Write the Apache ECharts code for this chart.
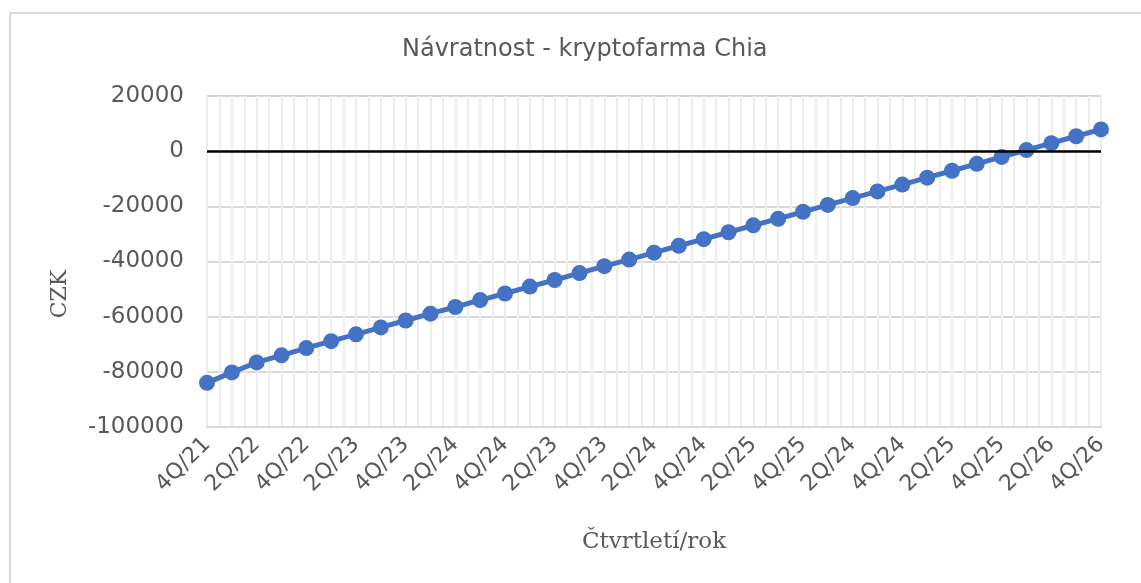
<!DOCTYPE html>
<html>
<head>
<meta charset="utf-8">
<script src="https://cdn.jsdelivr.net/npm/echarts@6/dist/echarts.min.js"></script>
<style>
  html, body { margin: 0; padding: 0; background: #fff; }
  #chart { width: 1141px; height: 583px; }
</style>
</head>
<body>
<div id="chart"></div>
<script>
// čtvrtletí (popisky na ose x, zobrazuje se každý druhý)
var quarters = [
  '4Q/21', '1Q/22', '2Q/22', '3Q/22', '4Q/22', '1Q/23', '2Q/23', '3Q/23', '4Q/23',
  '1Q/24', '2Q/24', '3Q/24', '4Q/24', '1Q/23', '2Q/23', '3Q/23', '4Q/23',
  '1Q/24', '2Q/24', '3Q/24', '4Q/24', '1Q/25', '2Q/25', '3Q/25', '4Q/25',
  '1Q/24', '2Q/24', '3Q/24', '4Q/24', '1Q/25', '2Q/25', '3Q/25', '4Q/25',
  '1Q/26', '2Q/26', '3Q/26', '4Q/26'
];
// kumulovaná návratnost v CZK
var returns = [
  -84000, -80200, -76600, -74000, -71400, -68900, -66400, -63900, -61400,
  -58900, -56500, -54000, -51600, -49100, -46700, -44200, -41700,
  -39300, -36800, -34300, -31900, -29400, -26900, -24500, -22000,
  -19500, -17000, -14600, -12100, -9600, -7100, -4600, -2100,
  400, 2900, 5400, 7900
];
var yTicks = { min: -100000, max: 20000, step: 20000 };

var textColor = '#595959';
var chart = echarts.init(document.getElementById('chart'));

chart.setOption({
  animation: false,
  title: {
    text: 'Návratnost - kryptofarma Chia',
    left: 397,
    top: 33,
    textStyle: { fontFamily: 'DejaVu Sans', fontSize: 24, fontWeight: 'normal', color: textColor }
  },
  graphic: [{
    type: 'rect',
    shape: { x: 10, y: 13, width: 1200, height: 600 },
    style: { fill: 'none', stroke: '#d9d9d9', lineWidth: 2 },
    silent: true
  }, {
    type: 'text',
    x: 60,
    y: 294,
    rotation: Math.PI / 2,
    silent: true,
    style: {
      text: 'CZK',
      align: 'center',
      verticalAlign: 'middle',
      fontFamily: 'DejaVu Serif',
      fontSize: 22,
      fill: textColor
    }
  }],
  grid: { left: 207, right: 40, top: 96, bottom: 156 },
  xAxis: [{
    type: 'category',
    data: quarters,
    boundaryGap: false,
    axisLine: { onZero: false, lineStyle: { color: '#d9d9d9', width: 2 } },
    axisTick: { show: false },
    splitLine: { show: false },
    axisLabel: {
      interval: 1,
      rotate: 45,
      margin: 14,
      fontFamily: 'DejaVu Sans',
      fontSize: 22,
      color: textColor
    },
    name: 'Čtvrtletí/rok',
    nameLocation: 'middle',
    nameGap: 104,
    nameTextStyle: { fontFamily: 'DejaVu Serif', fontSize: 23, color: textColor }
  }, {
    // jemná svislá mřížka (dvě čáry na čtvrtletí)
    type: 'value',
    min: 0,
    max: (quarters.length - 1) * 2,
    interval: 1,
    show: true,
    position: 'bottom',
    axisLine: { show: false },
    axisTick: { show: false },
    axisLabel: { show: false },
    splitLine: { show: true, lineStyle: { color: '#ededed', width: 2 } }
  }],
  yAxis: {
    type: 'value',
    min: yTicks.min,
    max: yTicks.max,
    interval: yTicks.step,
    axisLine: { show: false },
    axisTick: { show: false },
    axisLabel: {
      margin: 23,
      fontFamily: 'DejaVu Sans',
      fontSize: 23,
      color: textColor,
      formatter: function (v) { return String(v); }
    },
    splitLine: { lineStyle: { color: '#d9d9d9', width: 2 } }
  },
  series: [{
    // nulová čára pod křivkou
    type: 'line',
    data: [],
    z: 1,
    silent: true,
    markLine: {
      silent: true,
      symbol: 'none',
      label: { show: false },
      lineStyle: { color: '#000', width: 2.5, type: 'solid' },
      data: [{ yAxis: 0 }]
    }
  }, {
    name: 'Návratnost',
    type: 'line',
    data: returns,
    z: 3,
    symbol: 'circle',
    symbolSize: 16,
    itemStyle: { color: '#4472C4' },
    lineStyle: { color: '#4472C4', width: 5 }
  }]
});
</script>
</body>
</html>
